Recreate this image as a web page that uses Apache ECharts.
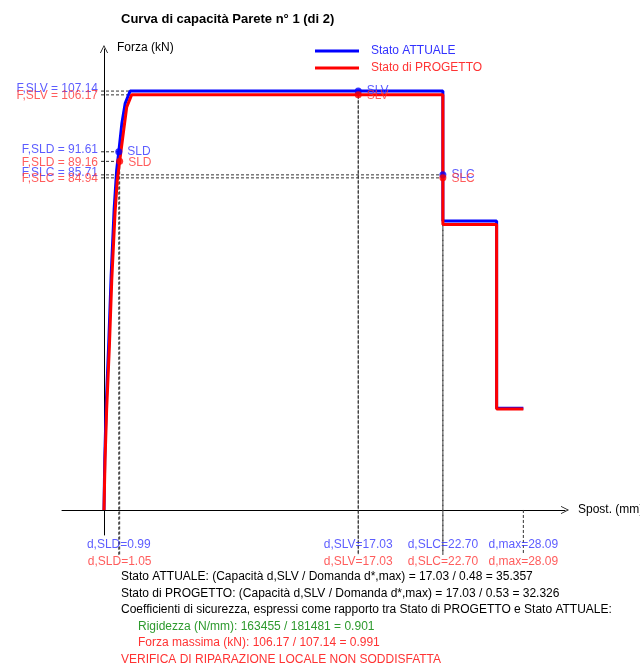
<!DOCTYPE html>
<html><head><meta charset="utf-8">
<script src="https://cdn.jsdelivr.net/npm/echarts@6/dist/echarts.min.js"></script>
<style>html,body{margin:0;padding:0;background:#fff}#c{width:640px;height:663px}</style>
</head><body><div id="c"></div>
<script>
// ---- Data ----
const dAtt = [0, 0.05, 0.15, 0.32, 0.48, 0.68, 0.85, 0.99, 1.2, 1.42, 1.75, 22.70, 22.70, 26.30, 26.30, 28.09];
const fAtt = [0, 13, 27, 43, 60, 77, 87, 91.61, 99, 104, 107.14, 107.14, 73.9, 73.9, 26.0, 26.0];
const dPrg = [0, 0.07, 0.18, 0.36, 0.52, 0.74, 0.89, 1.05, 1.32, 1.52, 1.85, 22.70, 22.70, 26.30, 26.30, 28.09];
const fPrg = [0, 12.8, 26, 41.7, 58.8, 76, 84.4, 89.16, 97.2, 103, 106.17, 106.17, 73.0, 73.0, 25.8, 25.8];

const lsNames = ['SLD', 'SLV', 'SLC'];
const lsDAtt = [0.99, 17.03, 22.70];
const lsFAtt = [91.61, 107.14, 85.71];
const lsDPrg = [1.05, 17.03, 22.70];
const lsFPrg = [89.16, 106.17, 84.94];
const dMax = 28.09;

const notes = [
  'Stato ATTUALE: (Capacità d,SLV / Domanda d*,max) = 17.03 / 0.48 = 35.357',
  'Stato di PROGETTO: (Capacità d,SLV / Domanda d*,max) = 17.03 / 0.53 = 32.326',
  'Coefficienti di sicurezza, espressi come rapporto tra Stato di PROGETTO e Stato ATTUALE:',
  'Rigidezza (N/mm): 163455 / 181481 = 0.901',
  'Forza massima (kN): 106.17 / 107.14 = 0.991',
  'VERIFICA DI RIPARAZIONE LOCALE NON SODDISFATTA'
];

// ---- Styles ----
const FONT = 'Liberation Sans';
const BLUE = '#0000ff', RED = '#ff0000';
const TBLUE = '#3333ff', TRED = '#ff3333', TGREEN = '#2e9a2e';
const DLEFT = -0.2, DBOT = -11.5;
const ROW1 = -9.0, ROW2 = -13.3;

const series = [];
function dashed(pts) {
  series.push({type: 'line', data: pts, symbol: 'none', clip: false, silent: true, z: 1,
    lineStyle: {color: '#333', width: 1, type: [3, 2]}});
}
for (let i = 0; i < lsNames.length; i++) {
  dashed([[DLEFT, lsFAtt[i]], [lsDAtt[i], lsFAtt[i]]]);
  dashed([[DLEFT, lsFPrg[i]], [lsDPrg[i], lsFPrg[i]]]);
  dashed([[lsDAtt[i], lsFAtt[i]], [lsDAtt[i], DBOT]]);
  dashed([[lsDPrg[i], lsFPrg[i]], [lsDPrg[i], DBOT]]);
}
dashed([[dMax, 0], [dMax, DBOT]]);

series.push({name: 'Stato ATTUALE', type: 'line', data: dAtt.map((d, i) => [d, fAtt[i]]),
  symbol: 'none', lineStyle: {color: BLUE, width: 3}, itemStyle: {color: BLUE}, z: 2});
series.push({name: 'Stato di PROGETTO', type: 'line', data: dPrg.map((d, i) => [d, fPrg[i]]),
  symbol: 'none', lineStyle: {color: RED, width: 3}, itemStyle: {color: RED}, z: 3});

// limit state markers
function markers(ds, fs, col, tcol, z, dy) {
  series.push({type: 'scatter', symbolSize: 7, z: z, clip: false, silent: true,
    itemStyle: {color: col},
    data: ds.map((d, i) => ({value: [d, fs[i]], name: lsNames[i]})),
    label: {show: true, position: 'right', distance: 5, offset: [0, dy], formatter: p => p.name,
      color: tcol, fontFamily: FONT, fontSize: 12}});
}
markers(lsDAtt, lsFAtt, BLUE, TBLUE, 4, 0);
markers(lsDPrg, lsFPrg, RED, TRED, 5, 1);

// left F labels
function fLabels(fs, tcol, z, dy) {
  series.push({type: 'scatter', symbolSize: 0, z: z, clip: false, silent: true,
    data: fs.map((f, i) => ({value: [DLEFT, f], name: 'F,' + lsNames[i] + ' = ' + f.toFixed(2)})),
    label: {show: true, position: 'left', distance: 3, offset: [0, dy], formatter: p => p.name,
      color: tcol, fontFamily: FONT, fontSize: 12}});
}
fLabels(lsFAtt, TBLUE, 6, -2);
fLabels(lsFPrg, TRED, 7, 1);

// bottom d labels
function dLabels(ds, row, tcol, z) {
  const all = ds.concat([dMax]);
  const nm = lsNames.map(n => 'd,' + n).concat(['d,max']);
  series.push({type: 'scatter', symbolSize: 0, z: z, clip: false, silent: true,
    data: all.map((d, i) => ({value: [d, row], name: nm[i] + '=' + d.toFixed(2)})),
    label: {show: true, position: 'inside', formatter: p => p.name,
      color: tcol, fontFamily: FONT, fontSize: 12}});
}
dLabels(lsDAtt, ROW1, TBLUE, 6);
dLabels(lsDPrg, ROW2, TRED, 7);

const chevron = 'path://M0,10 L5,0 L10,10 L9,10 L5,2 L1,10 Z';

const option = {
  animation: false,
  backgroundColor: '#fff',
  textStyle: {fontFamily: FONT},
  title: {text: 'Curva di capacità Parete n° 1 (di 2)', left: 116, top: 8,
    textStyle: {fontFamily: FONT, fontSize: 13, fontWeight: 'bold', color: '#000'}},
  legend: {left: 310, top: 40, orient: 'vertical', itemGap: 5, itemWidth: 44, itemHeight: 3,
    textStyle: {fontFamily: FONT, fontSize: 12, padding: [0, 0, 0, 7]},
    data: [
      {name: 'Stato ATTUALE', icon: 'rect', textStyle: {color: TBLUE}},
      {name: 'Stato di PROGETTO', icon: 'rect', textStyle: {color: TRED}}
    ]},
  grid: {left: 62, right: 75, top: 49, bottom: 128, containLabel: false, outerBoundsMode: 'none'},
  xAxis: {type: 'value', min: -2.813, max: 30.88,
    name: 'Spost. (mm)', nameLocation: 'end', nameGap: 13,
    nameTextStyle: {fontFamily: FONT, fontSize: 12, color: '#000', verticalAlign: 'middle', padding: [0, 0, 5, 0]},
    axisLine: {onZero: true, lineStyle: {color: '#000', width: 1}, symbol: ['none', chevron], symbolSize: [9, 8], symbolOffset: [0, 0]},
    axisTick: {show: false}, axisLabel: {show: false}, splitLine: {show: false}},
  yAxis: {type: 'value', min: -6.4, max: 117.9,
    name: 'Forza (kN)', nameLocation: 'end', nameGap: -5,
    nameTextStyle: {fontFamily: FONT, fontSize: 12, color: '#000', align: 'left', padding: [0, 0, 0, 13]},
    axisLine: {onZero: true, lineStyle: {color: '#000', width: 1}, symbol: ['none', chevron], symbolSize: [9, 8]},
    axisTick: {show: false}, axisLabel: {show: false}, splitLine: {show: false}},
  graphic: notes.map((t, i) => ({
    type: 'text', left: (i === 3 || i === 4) ? 138 : 121, top: 571 + i * 16.5,
    style: {text: t, fontFamily: FONT, fontSize: 12,
      fill: i === 3 ? TGREEN : (i >= 4 ? TRED : '#000')}
  })),
  series: series
};

const chart = echarts.init(document.getElementById('c'), null, {renderer: 'canvas'});
chart.setOption(option);
</script>
</body></html>
